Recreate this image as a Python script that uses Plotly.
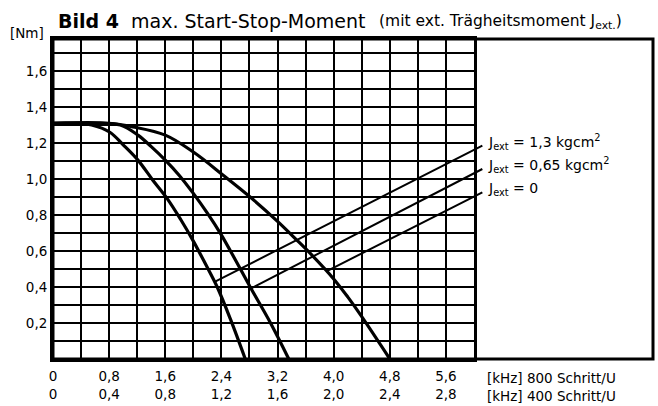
import plotly.graph_objects as go

# ---- data (x in kHz at 800 Schritt/U, y in Nm) ----
jext_labels = ["J<sub>ext</sub> = 1,3 kgcm<sup>2</sup>",
               "J<sub>ext</sub> = 0,65 kgcm<sup>2</sup>",
               "J<sub>ext</sub> = 0"]

x_j13 = [0, 0.3, 0.55, 0.81, 1.0, 1.21, 1.42, 1.63, 1.82, 2.0, 2.17, 2.34, 2.53, 2.74]
y_j13 = [1.31, 1.31, 1.30, 1.26, 1.19, 1.105, 0.995, 0.89, 0.775, 0.655, 0.53, 0.40, 0.22, 0.0]

x_j065 = [0, 0.6, 0.96, 1.21, 1.4, 1.6, 1.8, 2.0, 2.2, 2.39, 2.6, 2.81, 3.1, 3.36]
y_j065 = [1.31, 1.31, 1.30, 1.244, 1.18, 1.105, 1.02, 0.92, 0.81, 0.695, 0.55, 0.40, 0.20, 0.0]

x_j0 = [0, 0.8, 1.14, 1.6, 2.0, 2.43, 2.81, 3.2, 3.49, 3.67, 4.0, 4.2, 4.4, 4.8]
y_j0 = [1.31, 1.31, 1.29, 1.244, 1.15, 1.02, 0.90, 0.765, 0.655, 0.585, 0.445, 0.345, 0.235, 0.0]

# leader lines: tip on curve, tail at label
tip_x = [2.31, 2.81, 3.91]
tip_y = [0.43, 0.39, 0.49]
tail_x = [6.14, 6.14, 6.14]
tail_y = [1.19, 1.06, 0.93]

x_tickvals = [0, 0.8, 1.6, 2.4, 3.2, 4.0, 4.8, 5.6]
x_labels_800 = ["0", "0,8", "1,6", "2,4", "3,2", "4,0", "4,8", "5,6"]
x_labels_400 = ["0", "0,4", "0,8", "1,2", "1,6", "2,0", "2,4", "2,8"]
y_tickvals = [0.2, 0.4, 0.6, 0.8, 1.0, 1.2, 1.4, 1.6]
y_labels = ["0,2", "0,4", "0,6", "0,8", "1,0", "1,2", "1,4", "1,6"]

FONT = "DejaVu Sans"
GRID_RIGHT = 0.7017  # right edge of the gridded area, as a fraction of the frame

fig = go.Figure()
for xs, ys in [(x_j13, y_j13), (x_j065, y_j065), (x_j0, y_j0)]:
    fig.add_trace(go.Scatter(x=xs, y=ys, mode="lines",
                             line=dict(color="black", width=3.2, shape="spline", smoothing=1.0),
                             showlegend=False, hoverinfo="skip"))

annotations = []
for lab, tx, ty, ax, ay in zip(jext_labels, tip_x, tip_y, tail_x, tail_y):
    # leader line
    annotations.append(dict(x=tx, y=ty, xref="x", yref="y", ax=ax, ay=ay, axref="x", ayref="y",
                            text="", showarrow=True, arrowhead=0, arrowwidth=2, arrowcolor="black",
                            standoff=0, startstandoff=0))
    # label text
    annotations.append(dict(x=GRID_RIGHT, y=ay, xref="paper", yref="y", xanchor="left",
                            yanchor="middle", xshift=12, yshift=3, showarrow=False, text=lab,
                            font=dict(family=FONT, size=14, color="black")))

annotations += [
    dict(x=0, y=1, xref="paper", yref="paper", xanchor="left", yanchor="middle",
         xshift=3, yshift=18, showarrow=False,
         text="<b>Bild 4</b>  max. Start-Stop-Moment",
         font=dict(family=FONT, size=19, color="black")),
    dict(x=0, y=1, xref="paper", yref="paper", xanchor="right", yanchor="middle",
         xshift=571, yshift=17, showarrow=False,
         text="(mit ext. Trägheitsmoment J<sub>ext.</sub>)",
         font=dict(family=FONT, size=15.5, color="black")),
    dict(x=0, y=1, xref="paper", yref="paper", xanchor="right", yanchor="middle",
         xshift=-7, yshift=6, showarrow=False, text="[Nm]",
         font=dict(family=FONT, size=13.5, color="black")),
    dict(x=GRID_RIGHT, y=0, xref="paper", yref="paper", xanchor="left", yanchor="top",
         xshift=11, yshift=-9, showarrow=False, align="left",
         text="[kHz] 800 Schritt/U<br>[kHz] 400 Schritt/U",
         font=dict(family=FONT, size=13.5, color="black")),
]

fig.update_layout(
    width=658, height=406,
    margin=dict(l=53, r=5, t=39, b=47),
    paper_bgcolor="white", plot_bgcolor="white",
    annotations=annotations,
    shapes=[dict(type="rect", xref="paper", yref="paper", x0=0, x1=1, y0=0, y1=1,
                 line=dict(color="black", width=3))],
    xaxis=dict(domain=[0, GRID_RIGHT], range=[0, 6.0], tickmode="array", tickvals=x_tickvals,
               ticktext=[a + "<br>" + b for a, b in zip(x_labels_800, x_labels_400)],
               showgrid=True, gridcolor="black", gridwidth=2,
               minor=dict(tickmode="linear", tick0=0, dtick=0.4, showgrid=True,
                          gridcolor="black", gridwidth=2),
               showline=True, linecolor="black", linewidth=3, mirror=True,
               zeroline=False, ticks="", ticklabelstandoff=3,
               tickfont=dict(family=FONT, size=13.5, color="black")),
    yaxis=dict(range=[0, 1.778], tickmode="array", tickvals=y_tickvals, ticktext=y_labels,
               showgrid=True, gridcolor="black", gridwidth=2,
               minor=dict(tickmode="linear", tick0=0, dtick=0.1, showgrid=True,
                          gridcolor="black", gridwidth=2),
               showline=True, linecolor="black", linewidth=3, mirror=True,
               zeroline=False, ticks="", tickfont=dict(family=FONT, size=13.5, color="black")),
)

# remove the default page margin so the 658x406 figure fills the window exactly
fig.write_html("out.html", config={"displayModeBar": False},
               post_script="document.body.style.margin='0px';")
